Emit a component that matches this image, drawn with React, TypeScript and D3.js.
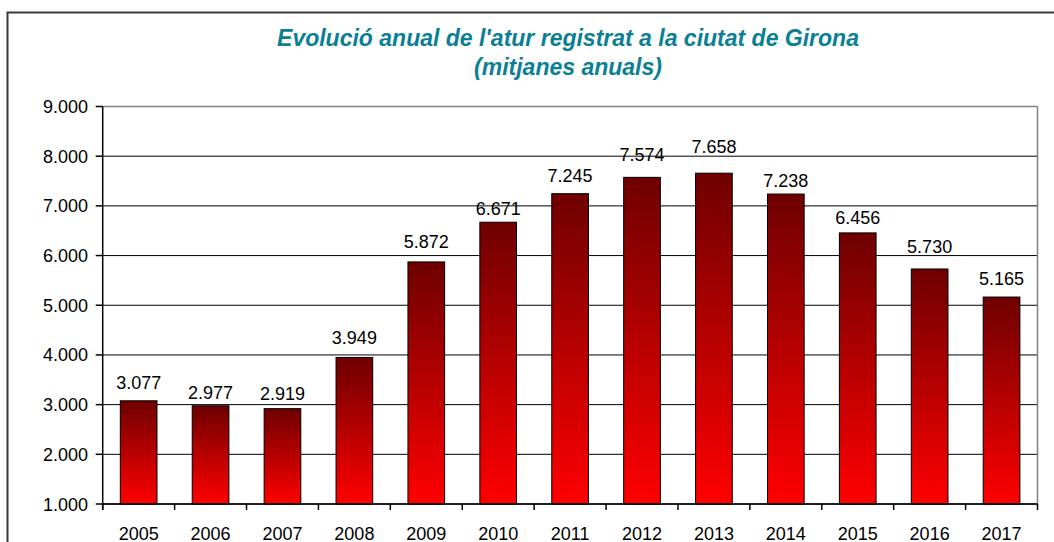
import React from "react";
import * as d3 from "d3";

const years = ["2005","2006","2007","2008","2009","2010","2011","2012","2013","2014","2015","2016","2017"];
const values = [3077,2977,2919,3949,5872,6671,7245,7574,7658,7238,6456,5730,5165];
const yTicks = [1000,2000,3000,4000,5000,6000,7000,8000,9000];
const titleLines = ["Evolució anual de l'atur registrat a la ciutat de Girona", "(mitjanes anuals)"];
// gap (px) between each data label's baseline and its bar top, as placed in the reference
const labelGap = [12, 6.5, 8.5, 13, 13.5, 7, 11.5, 16, 20, 7.5, 8.5, 16, 12];

const fmt = (v: number) => d3.format(",")(v).replace(/,/g, ".");

export default function App() {
  const W = 1054, H = 542;
  const left = 102.7, right = 1037.5, top = 106.5, bottom = 504;
  const x = d3.scaleBand().domain(years).range([left, right]).paddingInner(0.49).paddingOuter(0.245);
  const y = d3.scaleLinear().domain([1000, 9000]).range([bottom, top]);
  const font = "'Liberation Sans', Arial, sans-serif";
  return (
    <svg width={W} height={H} style={{ position: "absolute", left: 0, top: 0, background: "#fff" }}>
      <defs>
        <linearGradient id="barGrad" x1="0" y1="0" x2="0" y2="1">
          <stop offset="0%" stopColor="#6e0000" />
          <stop offset="100%" stopColor="#ff0000" />
        </linearGradient>
      </defs>
      <rect x={7.5} y={12.5} width={1100} height={600} fill="none" stroke="#3a3a3a" strokeWidth={2} />
      {titleLines.map((t, i) => (
        <text key={i} x={568} y={46 + i * 29} textAnchor="middle" fontFamily={font} fontSize={23}
          fontWeight="bold" fontStyle="italic" fill="#0b8094">{t}</text>
      ))}
      {yTicks.map(t => (
        <line key={t} x1={left} x2={right} y1={y(t)} y2={y(t)} stroke={t === 9000 ? "#808080" : "#000"} strokeWidth={t === 9000 ? 1.5 : 1} />
      ))}
      <line x1={right} x2={right} y1={top} y2={bottom} stroke="#808080" strokeWidth={1.5} />
      {years.map((yr, i) => (
        <rect key={yr} x={x(yr)} y={y(values[i])} width={x.bandwidth()} height={bottom - y(values[i])}
          fill="url(#barGrad)" stroke="#000" strokeWidth={1} />
      ))}
      {years.map((yr, i) => (
        <text key={yr} x={(x(yr) as number) + x.bandwidth() / 2} y={y(values[i]) - labelGap[i]} textAnchor="middle"
          fontFamily={font} fontSize={18} fill="#000">{fmt(values[i])}</text>
      ))}
      <line x1={left} x2={left} y1={top} y2={bottom + 6} stroke="#000" strokeWidth={1.5} />
      <line x1={left} x2={right} y1={bottom} y2={bottom} stroke="#000" strokeWidth={1.5} />
      {yTicks.map(t => (
        <g key={t}>
          <line x1={left - 7} x2={left} y1={y(t)} y2={y(t)} stroke="#000" strokeWidth={1.5} />
          <text x={88} y={y(t) + 6.5} textAnchor="end" fontFamily={font} fontSize={18} fill="#000">{fmt(t)}</text>
        </g>
      ))}
      {d3.range(years.length + 1).map(i => {
        const xx = left + i * x.step();
        return <line key={i} x1={xx} x2={xx} y1={bottom} y2={bottom + 6} stroke="#000" strokeWidth={1.5} />;
      })}
      {years.map(yr => (
        <text key={yr} x={(x(yr) as number) + x.bandwidth() / 2} y={539.5} textAnchor="middle"
          fontFamily={font} fontSize={18} fill="#000">{yr}</text>
      ))}
    </svg>
  );
}
